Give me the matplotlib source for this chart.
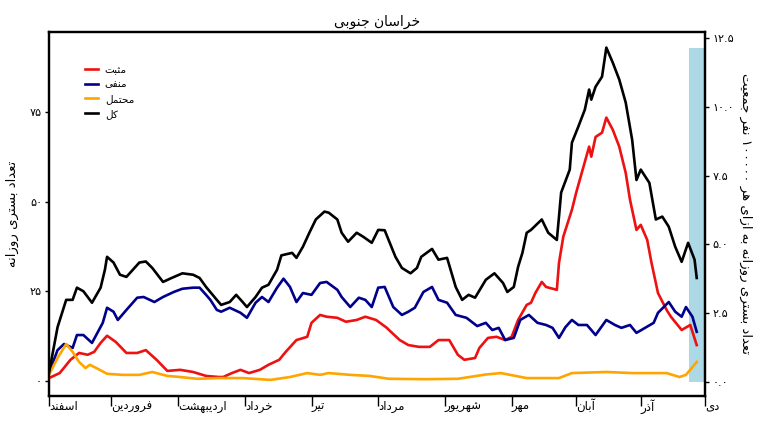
import numpy as np
import matplotlib
matplotlib.use("Agg")
import matplotlib.pyplot as plt
import matplotlib.transforms as mtransforms

# --- data (day 0 = first of Esfand) ---
month_names = ["اسفند", "فروردین", "اردیبهشت", "خرداد", "تیر", "مرداد",
               "شهریور", "مهر", "آبان", "آذر", "دی"]
month_days = [0, 29, 60, 91, 122, 153, 184, 215, 245, 275, 305]

total_day = [0, 4, 8, 11, 13, 16, 20, 24, 26, 27, 30, 33, 36, 39, 42, 45, 48, 53, 57, 62,
             67, 70, 73, 78, 80, 84, 87, 90, 92, 96, 99, 102, 106, 108, 113, 115, 118, 121,
             124, 128, 130, 134, 136, 139, 143, 146, 150, 153, 156, 161, 164, 168, 171, 173,
             178, 181, 185, 189, 192, 195, 198, 203, 207, 211, 213, 216, 218, 220, 222, 224,
             229, 232, 236, 237, 238, 242, 243, 246, 249, 251, 252, 254, 257, 259, 262, 265,
             268, 271, 273, 275, 279, 282, 285, 288, 291, 294, 297, 300, 301]
total_val = [2.2, 15, 22.6, 22.6, 26, 25, 21.8, 26, 31, 34.6, 33, 29.6, 29, 31, 33, 33.3, 31.5,
             27.6, 28.7, 30, 29.6, 28.7, 26.2, 22.6, 21.2, 22, 24, 22, 20.6, 23.4, 26, 26.8, 31,
             35, 35.7, 34.3, 37.4, 41.3, 45, 47.2, 46.9, 45, 41.3, 38.8, 41.3, 40.2, 38.5, 42.1,
             42, 34.6, 31.5, 30, 31.5, 34.6, 36.8, 33.8, 34.3, 26.2, 22.6, 24, 23.2, 28.2, 30,
             27.3, 24.8, 26.2, 31.8, 35.7, 41.3, 42.1, 45, 41.3, 39.3, 45.8, 52.5, 58.9, 66.4,
             70.9, 75.6, 81.2, 78.4, 82, 84.8, 92.9, 88.7, 84, 77.6, 67.2, 56, 58.9, 55.2, 45,
             45.8, 43, 37.4, 33.2, 38.5, 33.8, 28.7]

pos_day = [0, 5, 10, 14, 18, 21, 24, 27, 31, 36, 41, 45, 50, 55, 61, 67, 73, 79, 81, 85, 89,
           93, 98, 102, 107, 110, 115, 120, 122, 126, 129, 134, 138, 143, 147, 152, 157, 158,
           163, 167, 172, 177, 181, 186, 190, 193, 198, 200, 204, 208, 212, 215, 218, 222,
           224, 226, 229, 231, 236, 237, 239, 243, 245, 248, 251, 252, 254, 257, 259, 262,
           265, 268, 270, 273, 275, 278, 280, 283, 287, 289, 294, 298, 301]
pos_val = [0.8, 2.2, 5.9, 7.8, 7.3, 8.1, 10.6, 12.6, 10.9, 7.8, 7.8, 8.6, 5.9, 2.8, 3.1, 2.5,
           1.4, 1.1, 1.1, 2.2, 3.1, 2.2, 3.1, 4.5, 5.9, 8.1, 11.4, 12.3, 16.2, 18.4, 17.9, 17.6,
           16.5, 17, 17.9, 17, 14.8, 14.2, 11.4, 10, 9.5, 9.5, 11.4, 11.4, 7.3, 5.9, 6.4, 9.2,
           12, 12.3, 11.4, 12.3, 17, 21.2, 21.8, 24.5, 27.6, 26.2, 25.4, 32.9, 40.2, 47.7, 52.5,
           58.9, 65.3, 62.5, 68, 69.2, 73.4, 70, 65.3, 58, 50.5, 42.1, 43.5, 39.3, 32.9, 24.5,
           19.8, 17.9, 14.2, 15.6, 10]

neg_day = [0, 4, 7, 11, 13, 16, 20, 25, 27, 30, 32, 36, 41, 44, 49, 53, 58, 62, 67, 70, 73,
           75, 78, 80, 84, 89, 92, 96, 99, 102, 106, 109, 112, 115, 118, 122, 126, 129, 134,
           136, 140, 144, 147, 150, 153, 156, 160, 164, 167, 170, 174, 178, 181, 185, 189, 194,
           199, 203, 206, 209, 212, 216, 219, 223, 227, 231, 234, 237, 240, 243, 246, 250, 254,
           259, 263, 266, 270, 273, 277, 281, 283, 288, 291, 294, 296, 299, 301]
neg_val = [2.2, 8.6, 10.3, 9.2, 12.8, 12.8, 10.6, 16.2, 20.4, 19.3, 17, 19.8, 23.2, 23.4, 22,
           23.4, 24.8, 25.7, 26, 26, 24, 22.6, 19.8, 19.3, 20.4, 19, 17.6, 21.8, 23.4, 22, 26,
           28.5, 26.2, 22, 24.5, 24, 27.3, 27.6, 25.4, 23.4, 20.6, 23.2, 22.6, 20.6, 26, 26.2,
           20.6, 18.4, 19.3, 20.4, 24.8, 26.2, 22.6, 21.8, 18.4, 17.6, 15.3, 16.2, 14.2, 14.8,
           11.4, 12, 17, 18.4, 16.2, 15.6, 14.8, 12, 15, 17, 15.6, 15.6, 12.8, 17, 15.6, 14.8,
           15.6, 13.4, 14.8, 16.2, 19, 22, 19.3, 17.9, 20.6, 17.9, 13.7]

prob_day = [0, 4, 8, 11, 14, 17, 19, 22, 27, 34, 42, 48, 55, 61, 69, 79, 90, 103, 112, 120,
            126, 130, 140, 149, 158, 175, 190, 203, 210, 222, 237, 243, 259, 271, 287, 293,
            296, 301]
prob_val = [1.7, 6.4, 10.3, 8.1, 5.3, 3.6, 4.5, 3.6, 2, 1.7, 1.7, 2.5, 1.4, 1.1, 0.6, 0.8,
            0.8, 0.3, 1.1, 2.2, 1.7, 2.2, 1.7, 1.4, 0.6, 0.5, 0.6, 1.8, 2.2, 0.8, 0.8, 2.2,
            2.5, 2.2, 2.2, 1.1, 1.7, 5.3]

# per 100000 population (right axis)
per_capita_day = 297.3
per_capita_val = 12.15

series_labels = ["مثبت", "منفی", "محتمل", "کل"]
series_colors = ["#ee1111", "#00008b", "#ffa500", "black"]

left_ticks = [0, 25, 50, 75]
right_ticks = [0, 2.5, 5, 7.5, 10, 12.5]

# --- minimal Persian shaping (matplotlib draws LTR without joining) ---
FORMS = {
    'ا': ('\uFE8D', '\uFE8E'), 'آ': ('\uFE81', '\uFE82'),
    'ب': ('\uFE8F', '\uFE90', '\uFE91', '\uFE92'), 'ت': ('\uFE95', '\uFE96', '\uFE97', '\uFE98'),
    'ث': ('\uFE99', '\uFE9A', '\uFE9B', '\uFE9C'), 'ج': ('\uFE9D', '\uFE9E', '\uFE9F', '\uFEA0'),
    'ح': ('\uFEA1', '\uFEA2', '\uFEA3', '\uFEA4'), 'خ': ('\uFEA5', '\uFEA6', '\uFEA7', '\uFEA8'),
    'د': ('\uFEA9', '\uFEAA'), 'ذ': ('\uFEAB', '\uFEAC'), 'ر': ('\uFEAD', '\uFEAE'),
    'ز': ('\uFEAF', '\uFEB0'),
    'س': ('\uFEB1', '\uFEB2', '\uFEB3', '\uFEB4'), 'ش': ('\uFEB5', '\uFEB6', '\uFEB7', '\uFEB8'),
    'ع': ('\uFEC9', '\uFECA', '\uFECB', '\uFECC'), 'ف': ('\uFED1', '\uFED2', '\uFED3', '\uFED4'),
    'ل': ('\uFEDD', '\uFEDE', '\uFEDF', '\uFEE0'), 'م': ('\uFEE1', '\uFEE2', '\uFEE3', '\uFEE4'),
    'ن': ('\uFEE5', '\uFEE6', '\uFEE7', '\uFEE8'), 'ه': ('\uFEE9', '\uFEEA', '\uFEEB', '\uFEEC'),
    'و': ('\uFEED', '\uFEEE'),
    'ی': ('\uFBFC', '\uFBFD', '\uFBFE', '\uFBFF'), 'ک': ('\uFB8E', '\uFB8F', '\uFB90', '\uFB91'),
}


def fa(text):
    words = []
    for w in text.split(' '):
        if not any(c in FORMS for c in w):
            words.append(w)
            continue
        out = []
        for i, c in enumerate(w):
            f = FORMS.get(c)
            if f is None:
                out.append(c)
                continue
            prev = w[i - 1] if i > 0 else ''
            nxt = w[i + 1] if i + 1 < len(w) else ''
            jp = prev in FORMS and len(FORMS[prev]) == 4
            jn = len(f) == 4 and nxt in FORMS
            out.append(f[3] if jp and jn else f[1] if jp else f[2] if jn else f[0])
        words.append(''.join(reversed(out)))
    return ' '.join(reversed(words))


digits = str.maketrans('0123456789.', '۰۱۲۳۴۵۶۷۸۹.')


def fa_num(v, fmt):
    return (fmt % v).translate(digits)


plt.rcParams['font.family'] = ['DejaVu Sans']

fig = plt.figure(figsize=(7.65, 4.3), dpi=100)
ax = fig.add_axes([0.064, 0.079, 0.858, 0.847])
ax2 = ax.twinx()

ax2.bar([per_capita_day], [per_capita_val], width=8, align='edge',
        color='#add8e6', linewidth=0)

for d, v, c, lab in zip([pos_day, neg_day, prob_day, total_day],
                        [pos_val, neg_val, prob_val, total_val],
                        series_colors, series_labels):
    ax.plot(d, v, color=c, lw=1.9, label=fa(lab), solid_joinstyle='round')

ax.set_zorder(ax2.get_zorder() + 1)
ax.patch.set_visible(False)

ax.set_xlim(0, 304.5)
ax.set_ylim(-4.2, 97.3)
ax2.set_ylim(-0.51, 12.73)

ax.set_yticks(left_ticks)
ax.set_yticklabels([fa_num(v, '%d') for v in left_ticks], fontsize=8)
ax2.set_yticks(right_ticks)
ax2.set_yticklabels([fa_num(v, '%.1f') for v in right_ticks], fontsize=8)

ax.set_xticks(month_days)
ax.set_xticklabels([fa(m) for m in month_names], fontsize=8.5)
offset = mtransforms.ScaledTranslation(2 / 72, 0, fig.dpi_scale_trans)
for lbl in ax.get_xticklabels():
    lbl.set_horizontalalignment('left')
    lbl.set_transform(lbl.get_transform() + offset)

ax.tick_params(axis='x', length=7, width=1, pad=-4.5)
ax.tick_params(axis='y', length=3, width=1, pad=2)
ax2.tick_params(axis='y', length=3, width=1, pad=2)

for a in (ax, ax2):
    for s in a.spines.values():
        s.set_linewidth(1.6)

ax.set_ylabel(fa("تعداد بستری روزانه"), fontsize=9.5, labelpad=8)
ax2.set_ylabel(fa("تعداد بستری روزانه به ازای هر 100000 نفر جمعیت".translate(digits)),
               fontsize=9.5, rotation=270, labelpad=13)
ax.set_title(fa("خراسان جنوبی"), fontsize=10, pad=4)

ax.legend(loc='upper left', bbox_to_anchor=(0.055, 0.91), frameon=False,
          fontsize=7.5, handlelength=1.2, handletextpad=0.7, labelspacing=0.45,
          borderaxespad=0, borderpad=0)

fig.savefig("out.png", dpi=100)
